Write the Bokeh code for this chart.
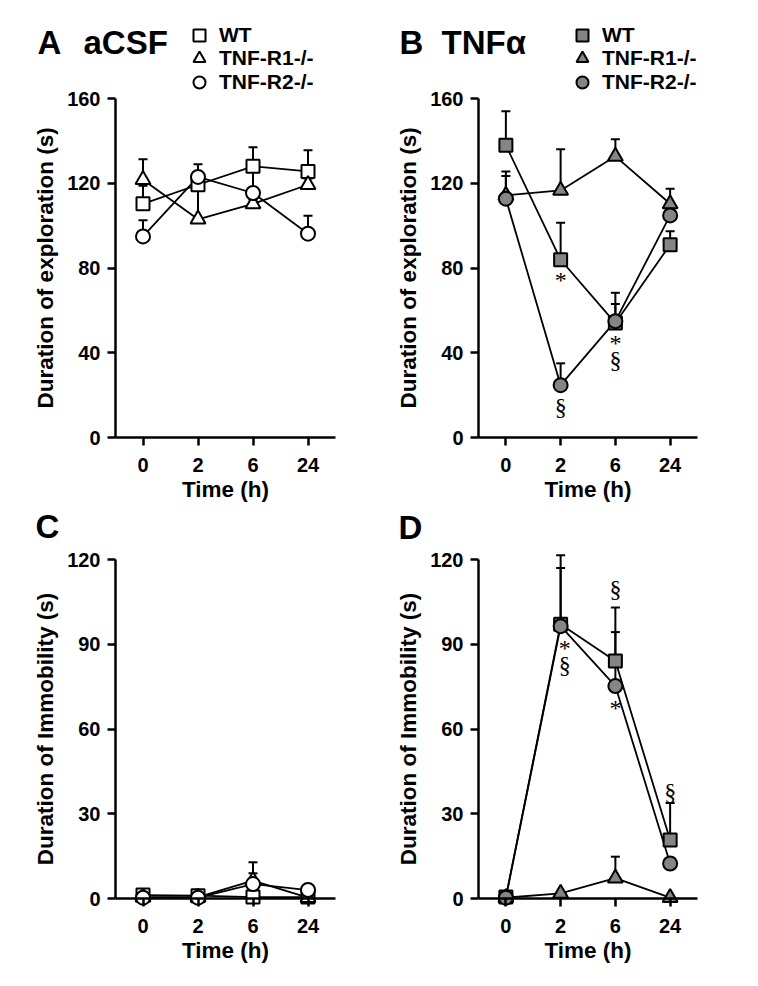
from bokeh.plotting import figure
from bokeh.models import (ColumnDataSource, Range1d, FixedTicker,
                          Whisker, TeeHead, Legend, LegendItem, Label)
from bokeh.layouts import row, column
from bokeh.embed import file_html
from bokeh.resources import INLINE
from bokeh.core.properties import value

# ---------------- data ----------------
times = ["0", "2", "6", "24"]
series_names = ["WT", "TNF-R1-/-", "TNF-R2-/-"]

# A: exploration, aCSF
a_wt = [110.3, 119.3, 128.0, 125.6]
a_wt_err = [8.5, 2.0, 9.0, 10.0]
a_r1 = [121.7, 103.0, 110.3, 119.3]
a_r1_err = [9.6, 15.0, 2.0, 3.0]
a_r2 = [94.9, 123.0, 115.4, 96.2]
a_r2_err = [7.6, 6.0, 12.0, 8.5]

# B: exploration, TNFa
b_wt = [137.9, 83.9, 54.0, 91.0]
b_wt_err = [16.1, 17.5, 14.3, 6.4]
b_r1 = [114.3, 116.6, 132.7, 110.3]
b_r1_err = [11.3, 19.4, 8.1, 7.1]
b_r2 = [112.7, 24.7, 54.9, 104.8]
b_r2_err = [10.7, 10.3, 8.1, 2.0]

# C: immobility, aCSF
c_wt = [1.2, 1.0, 0.5, 0.5]
c_wt_err = [0.5, 0.5, 0.3, 0.3]
c_r1 = [0.5, 0.5, 6.3, 0.3]
c_r1_err = [0.3, 0.3, 6.5, 0.3]
c_r2 = [0.3, 0.3, 5.1, 3.0]
c_r2_err = [0.3, 0.3, 3.8, 0.5]

# D: immobility, TNFa
d_wt = [0.5, 97.1, 84.1, 20.7]
d_wt_err = [0.3, 24.4, 18.9, 13.1]
d_r1 = [0.3, 1.8, 7.2, 0.3]
d_r1_err = [0.2, 0.5, 7.6, 0.2]
d_r2 = [0.3, 96.4, 75.2, 12.4]
d_r2_err = [0.2, 20.6, 19.1, 1.0]

# significance marks: time, series index, anchor (mean / top of error bar), symbol
b_marks_time = ["2", "2", "6", "6"]
b_marks_series = [0, 2, 0, 0]
b_marks_anchor = ["mean", "mean", "mean", "mean"]
b_marks_text = ["*", "§", "*", "§"]

d_marks_time = ["2", "2", "6", "6", "24"]
d_marks_series = [2, 2, 0, 2, 0]
d_marks_anchor = ["mean", "mean", "top", "mean", "top"]
d_marks_text = ["*", "§", "§", "*", "§"]

# pixel offsets of the marks (styling)
b_marks_dy = [20, 22, 20, 37]
b_marks_dx = [0, 0, 0, 0]
d_marks_dy = [22, 39, -19, 22, -11]
d_marks_dx = [4, 4, 0, 0, 0]

FONT = "Liberation Sans"
GRAY = "#858585"
MARKERS = ["square", "triangle", "circle"]
MSIZES = [13, 15, 14]


def make_panel(vals, errs, fill, ylabel, ytop, yticks,
               fig_left, fig_top, fig_w, fig_h,
               axis_x, frame_w, zero_y, top_y,
               letter, letter_x, title, title_x, base_y,
               legend_x=None, marks=None):
    """axis_x/zero_y/top_y/... are page-pixel positions of the plot box."""
    n = len(times)
    xppu = frame_w / n
    yppu = (zero_y - top_y) / ytop
    x_lo = -0.5 - (axis_x - fig_left) / xppu
    x_hi = x_lo + fig_w / xppu
    y_hi = (zero_y - fig_top) / yppu
    y_lo = y_hi - fig_h / yppu

    p = figure(width=fig_w, height=fig_h,
               x_range=Range1d(x_lo, x_hi), y_range=Range1d(y_lo, y_hi),
               min_border=0, toolbar_location=None, output_backend="svg")
    p.outline_line_color = None
    p.xgrid.visible = False
    p.ygrid.visible = False
    p.background_fill_color = "white"

    for ax in (p.xaxis, p.yaxis):
        ax.axis_line_width = 2.5
        ax.major_tick_line_width = 2.5
        ax.major_tick_out = 8
        ax.major_tick_in = 0
        ax.minor_tick_line_color = None
        ax.major_label_text_font = FONT
        ax.major_label_text_font_style = "bold"
        ax.major_label_text_font_size = "20px"
        ax.major_label_text_color = "black"
        ax.axis_label_text_font = FONT
        ax.axis_label_text_font_style = "bold"
        ax.axis_label_text_font_size = "22.5px"
        ax.axis_label_text_color = "black"

    p.xaxis.fixed_location = 0
    p.xaxis.bounds = (-0.5, n - 0.5)
    p.xaxis.ticker = FixedTicker(ticks=list(range(n)))
    p.xaxis.major_label_overrides = {i: t for i, t in enumerate(times)}
    p.xaxis.major_label_standoff = 12
    p.xaxis.axis_label = "Time (h)"
    p.xaxis.axis_label_standoff = 2

    p.yaxis.fixed_location = -0.5
    p.yaxis.bounds = (0, ytop)
    p.yaxis.ticker = FixedTicker(ticks=yticks)
    p.yaxis.major_label_standoff = 7
    p.yaxis.axis_label = ylabel
    p.yaxis.axis_label_standoff = 6

    xs = list(range(n))
    scat = []
    for v, e in zip(vals, errs):
        src = ColumnDataSource(dict(x=xs, y=v,
                                    upper=[a + b for a, b in zip(v, e)]))
        w = Whisker(source=src, base="x", lower="y", upper="upper",
                    dimension="height", line_color="black", line_width=2,
                    upper_head=TeeHead(size=9, line_width=2, line_color="black"),
                    lower_head=None, level="underlay")
        p.add_layout(w)
        p.line("x", "y", source=src, line_color="black", line_width=1.8)
    for i, v in enumerate(vals):
        src = ColumnDataSource(dict(x=xs, y=v))
        r = p.scatter("x", "y", source=src, marker=MARKERS[i], size=MSIZES[i],
                      fill_color=fill, line_color="black", line_width=2)
        scat.append(r)

    if marks is not None:
        mt, ms, ma, mtext, mdy, mdx = marks
        mx, my = [], []
        for t, s, a in zip(mt, ms, ma):
            k = times.index(t)
            mx.append(k)
            my.append(vals[s][k] + (errs[s][k] if a == "top" else 0))
        msrc = ColumnDataSource(dict(x=mx, y=my, text=mtext, dy=mdy, dx=mdx))
        p.text("x", "y", text="text", source=msrc, x_offset="dx", y_offset="dy",
               text_font=value("Liberation Serif"), text_font_size="24px",
               text_align="center", text_baseline="middle", text_color="black")

    def sx(px):
        return px - fig_left

    def sy(py):
        return fig_top + fig_h - py

    p.add_layout(Label(x=sx(letter_x), y=sy(base_y), x_units="screen",
                       y_units="screen", text=letter, text_font=FONT,
                       text_font_style="bold", text_font_size="33px",
                       text_baseline="alphabetic", text_color="black"))
    if title:
        p.add_layout(Label(x=sx(title_x), y=sy(base_y), x_units="screen",
                           y_units="screen", text=title, text_font=FONT,
                           text_font_style="bold", text_font_size="33px",
                           text_baseline="alphabetic", text_color="black"))
    if legend_x is not None:
        row_centers = [34.5, 58, 81.5]
        for i, name in enumerate(series_names):
            lg = Legend(items=[LegendItem(label=name, renderers=[scat[i]])],
                        location=(sx(legend_x), sy(row_centers[i] + 15)),
                        glyph_width=30, glyph_height=30, padding=0, margin=0,
                        spacing=0, label_standoff=5,
                        border_line_color=None, background_fill_alpha=0,
                        label_text_font=FONT, label_text_font_style="bold",
                        label_text_font_size="21px", label_text_color="black",
                        label_text_baseline="middle", label_text_line_height=0.95)
            p.add_layout(lg)
    return p


ROW1_H = 505
ROW2_H = 475

pA = make_panel([a_wt, a_r1, a_r2], [a_wt_err, a_r1_err, a_r2_err], "white",
                "Duration of exploration (s)", 160, [0, 40, 80, 120, 160],
                0, 0, 378, ROW1_H, 115, 220, 437, 98,
                "A", 37, "aCSF", 83, 42, legend_x=184)
pB = make_panel([b_wt, b_r1, b_r2], [b_wt_err, b_r1_err, b_r2_err], GRAY,
                "Duration of exploration (s)", 160, [0, 40, 80, 120, 160],
                378, 0, 370, ROW1_H, 478, 219, 437, 98,
                "B", 399, "TNFα", 441, 42, legend_x=567,
                marks=(b_marks_time, b_marks_series, b_marks_anchor, b_marks_text,
                       b_marks_dy, b_marks_dx))
pC = make_panel([c_wt, c_r1, c_r2], [c_wt_err, c_r1_err, c_r2_err], "white",
                "Duration of Immobility (s)", 120, [0, 30, 60, 90, 120],
                0, ROW1_H, 378, ROW2_H, 115, 220, 898, 559,
                "C", 35, "", 0, 526)
pD = make_panel([d_wt, d_r1, d_r2], [d_wt_err, d_r1_err, d_r2_err], GRAY,
                "Duration of Immobility (s)", 120, [0, 30, 60, 90, 120],
                378, ROW1_H, 370, ROW2_H, 478, 219, 898, 559,
                "D", 398, "", 0, 527,
                marks=(d_marks_time, d_marks_series, d_marks_anchor, d_marks_text,
                       d_marks_dy, d_marks_dx))

layout = column(row(pA, pB), row(pC, pD))
open("out.html", "w").write(file_html(layout, INLINE))
